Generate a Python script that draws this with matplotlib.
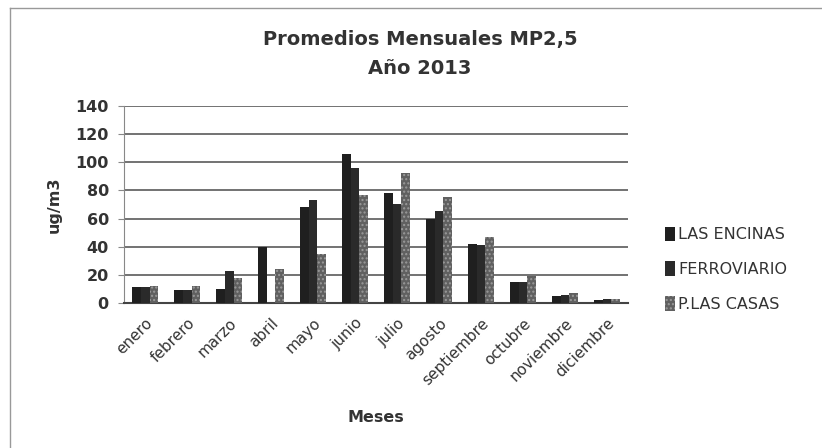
import numpy as np
import matplotlib
matplotlib.use("Agg")
import matplotlib.pyplot as plt
from matplotlib.lines import Line2D
from matplotlib.patches import Patch

plt.rcParams["font.family"] = ["DejaVu Sans"]

# Data
months = ["enero", "febrero", "marzo", "abril", "mayo", "junio", "julio",
          "agosto", "septiembre", "octubre", "noviembre", "diciembre"]
las_encinas = [11, 9, 10, 40, 68, 106, 78, 60, 42, 15, 5, 2]
ferroviario = [11, 9, 23, 0, 73, 96, 70, 65, 41, 15, 6, 3]
p_las_casas = [12, 12, 18, 24, 35, 77, 92, 75, 47, 19, 7, 3]
series_names = ["LAS ENCINAS", "FERROVIARIO", "P.LAS CASAS"]
yticks = [0, 20, 40, 60, 80, 100, 120, 140]

TXT = "#333333"

fig = plt.figure(figsize=(8.22, 4.48), dpi=100)
ax = fig.add_axes([0.151, 0.3237, 0.613, 0.44])

x = np.arange(len(months))
w = 0.21
colors = ["#1f1f1f", "#2a2a2a", "#606060"]
for i, (vals, c) in enumerate(zip([las_encinas, ferroviario, p_las_casas], colors)):
    bars = ax.bar(x + (i - 1) * w, vals, width=w, color=c, zorder=3,
                  label=series_names[i])
    if i == 2:
        for b in bars:
            b.set_hatch("....")
            b.set_edgecolor("#9a9a9a")
            b.set_linewidth(0)

ax.set_xlim(-0.5, len(months) - 0.5)
ax.set_ylim(0, 140)
ax.set_yticks(yticks)
ax.yaxis.grid(True, color="#5a5a5a", linewidth=1.2, zorder=0)
ax.set_axisbelow(True)
for s in ["top", "right"]:
    ax.spines[s].set_visible(False)
ax.spines["left"].set_color("#888888")
ax.spines["bottom"].set_color("#444444")
ax.spines["bottom"].set_linewidth(1.5)
ax.tick_params(axis="y", length=4, color="#888888", labelsize=11.5,
               labelcolor=TXT, pad=7)
ax.tick_params(axis="x", length=0, labelsize=11, labelcolor=TXT, pad=9)
for t in ax.get_yticklabels():
    t.set_fontweight("bold")
ax.set_xticks(x)
ax.set_xticklabels(months, rotation=45, ha="right", rotation_mode="anchor")

ax.set_ylabel("ug/m3", fontsize=11.5, color=TXT, fontweight="bold", labelpad=10)
fig.text(0.457, 0.069, "Meses", fontsize=11.5, color=TXT, fontweight="bold",
         ha="center", va="center")

fig.text(0.511, 0.911, "Promedios Mensuales MP2,5", fontsize=14,
         fontweight="bold", color=TXT, ha="center", va="center")
fig.text(0.511, 0.848, "Año 2013", fontsize=14, fontweight="bold",
         color=TXT, ha="center", va="center")

handles = [Patch(facecolor=colors[0]), Patch(facecolor=colors[1]),
           Patch(facecolor=colors[2], hatch="....", edgecolor="#9a9a9a",
                 linewidth=0)]
fig.legend(handles, series_names, loc="center left",
           bbox_to_anchor=(0.792, 0.399), frameon=False, fontsize=11.5,
           handlelength=0.6, handleheight=1.0, handletextpad=0.2,
           labelspacing=1.2, labelcolor=TXT)

# chart frame (top and left edges visible in the scan)
fig.add_artist(Line2D([0.012, 1.0], [0.982, 0.982], color="#999999", lw=1))
fig.add_artist(Line2D([0.012, 0.012], [0.0, 0.982], color="#999999", lw=1))

fig.savefig("out.png", dpi=100)
